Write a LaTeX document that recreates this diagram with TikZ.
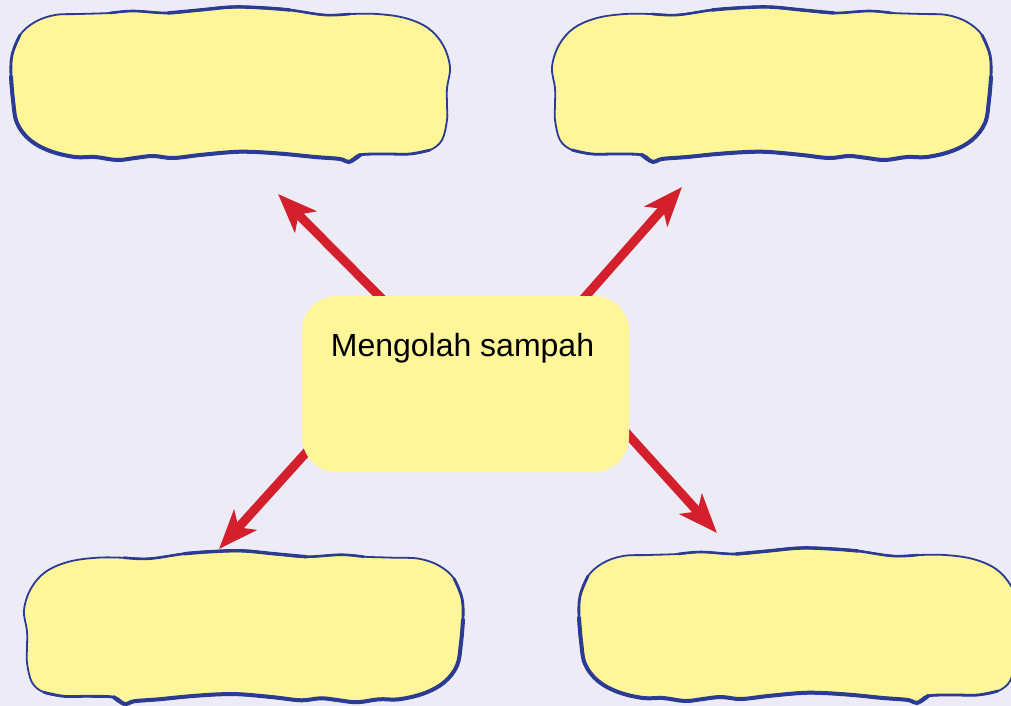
\documentclass[tikz,border=0pt]{standalone}
\usepackage{fontspec}
\setmainfont{Liberation Sans}
\usetikzlibrary{arrows.meta}
\definecolor{bgcol}{RGB}{237,236,246}
\definecolor{boxyellow}{RGB}{255,245,153}
\definecolor{edgeblue}{RGB}{43,59,148}
\definecolor{arrowred}{RGB}{212,32,44}
\begin{document}
\begin{tikzpicture}[x=1pt,y=-1pt,
    redarrow/.style={draw=arrowred,line width=9pt,-{Stealth[length=39pt,width=30pt,inset=10pt]}},
    blob/.pic={
        \filldraw[fill=boxyellow,draw=edgeblue,line width=1.8pt] plot[smooth cycle,tension=0.6] coordinates {(-175,-70) (-150,-71) (-120,-72) (-97,-74) (-62,-72) (-30,-75) (3,-78) (35,-77) (60,-75) (95,-70) (120,-71) (147,-71) (175,-67) (198,-57) (213,-40) (220,-18) (217,3) (217,20) (217,35) (212,55) (200,65) (180,69) (155,69) (130,70) (119,77) (110,74) (85,72) (55,69) (25,67) (3,67) (-30,70) (-57,73) (-77,71) (-95,73) (-113,75) (-135,72) (-155,72) (-180,66) (-200,55) (-213,38) (-217,15) (-219,-8) (-218,-30) (-210,-50) (-195,-63)};
        \draw[edgeblue,line width=2.8pt,line cap=round] plot[smooth,tension=0.6] coordinates {(200,65) (180,69) (155,69) (130,70) (119,77) (110,74) (85,72) (55,69) (25,67) (3,67) (-30,70) (-57,73) (-77,71) (-95,73) (-113,75) (-135,72) (-155,72) (-180,66) (-200,55) (-213,38) (-217,15) (-219,-8) (-218,-30) (-210,-50)};
        \draw[edgeblue,line width=4pt,line cap=round] plot[smooth,tension=0.6] coordinates {(130,70) (119,77) (110,74) (85,72) (55,69) (25,67) (3,67) (-30,70) (-57,73) (-77,71) (-95,73) (-113,75) (-135,72) (-155,72) (-180,66) (-200,55) (-213,38) (-217,15) (-219,-8)};
        \draw[edgeblue,line width=2.6pt,line cap=round] plot[smooth,tension=0.6] coordinates {(-120,-72) (-97,-74) (-62,-72) (-30,-75) (3,-78) (35,-77) (60,-75) (95,-70) (120,-71)};
        \draw[edgeblue,line width=3.4pt,line cap=round] plot[smooth,tension=0.6] coordinates {(-62,-72) (-30,-75) (3,-78) (35,-77) (60,-75)};
    }]
    \fill[bgcol] (0,0) rectangle (1011,706);
    \useasboundingbox (0,0) rectangle (1011,706);
    \pic at (230,85) {blob};
    \pic[xscale=-1] at (772,85) {blob};
    \pic[xscale=-1,yscale=0.99] at (244,628) {blob};
    \pic at (798,626) {blob};
    \coordinate (ultail) at (400,317);
    \coordinate (urtail) at (570,314);
    \coordinate (lltail) at (322,435);
    \coordinate (lrtail) at (613,418);
    \coordinate (ultip) at (278,194);
    \coordinate (urtip) at (682,187);
    \coordinate (lltip) at (219,549);
    \coordinate (lrtip) at (717,533);
    \draw[redarrow] (ultail) -- (ultip);
    \draw[redarrow] (urtail) -- (urtip);
    \draw[redarrow] (lltail) -- (lltip);
    \draw[redarrow] (lrtail) -- (lrtip);
    \node[fill=boxyellow,rounded corners=35pt,minimum width=327pt,minimum height=176pt,text height=24pt,text depth=80pt,font=\fontsize{32}{38}\selectfont] (main) at (465.5,384) {Mengolah sampah\hspace*{6pt}};
\end{tikzpicture}
\end{document}
